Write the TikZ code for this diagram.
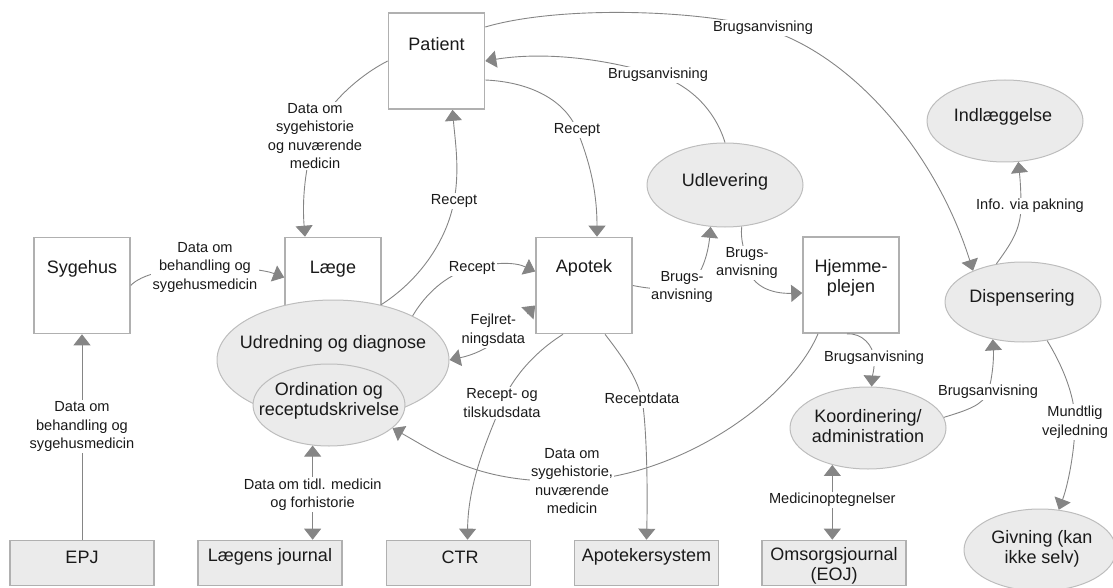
\documentclass[tikz,border=0pt]{standalone}
\usepackage{fontspec}
\setmainfont{Liberation Sans}
\usetikzlibrary{shapes.geometric,arrows.meta}
\definecolor{boxline}{HTML}{B0B0B0}
\definecolor{ellline}{HTML}{BDBDBD}
\definecolor{ellfill}{HTML}{EBEBEB}
\definecolor{arrcol}{HTML}{858585}
\definecolor{txt}{HTML}{1A1A1A}
\begin{document}
\begin{tikzpicture}[x=1pt,y=-1pt,
  wbox/.style={draw=boxline, line width=1.6pt, fill=white, minimum width=96pt, minimum height=96pt, inner sep=0pt},
  gbox/.style={draw=boxline, line width=1.6pt, fill=ellfill, minimum width=144pt, minimum height=45pt, inner sep=0pt},
  ell/.style={ellipse, draw=ellline, line width=1pt, fill=ellfill, inner sep=0pt},
  mtxt/.style={font=\fontsize{18}{19.5}\selectfont, text=txt, align=center, inner sep=0pt},
  elbl/.style={font=\fontsize{14.6}{18.5}\selectfont, text=txt, align=center, fill=white, inner sep=1.5pt},
  conn/.style={draw=arrcol, line width=0.9pt, -{Triangle[length=11pt,width=17pt]}},
  conntwo/.style={draw=arrcol, line width=0.9pt, {Triangle[length=11pt,width=17pt]}-{Triangle[length=11pt,width=17pt]}}]
\useasboundingbox (0,0) rectangle (1113,588);

% white boxes
\node[wbox] (patient) at (436.5,61) {};
\node[mtxt] (patientT) at (436.5,44) {Patient};
\node[wbox] (sygehus) at (82,285.5) {};
\node[mtxt] (sygehusT) at (82,269) {Sygehus};
\node[wbox] (laege) at (333,285.5) {};
\node[mtxt] (laegeT) at (333,269) {Læge};
\node[wbox] (apotek) at (584,285.5) {};
\node[mtxt] (apotekT) at (584,268) {Apotek};
\node[wbox] (hj) at (851,285) {};
\node[mtxt] (hjT) at (851,278) {Hjemme-\\plejen};

% ellipses
\node[ell, minimum width=232pt, minimum height=120pt] (udr) at (333,360) {};
\node[mtxt] (udrT) at (333,344) {Udredning og diagnose};
\node[ell, minimum width=152pt, minimum height=82pt] (ord) at (329,405) {};
\node[mtxt] (ordT) at (329,401) {Ordination og\\receptudskrivelse};
\node[ell, minimum width=156pt, minimum height=84pt] (udl) at (725,185) {};
\node[mtxt] (udlT) at (725,182) {Udlevering};
\node[ell, minimum width=156pt, minimum height=82pt] (koord) at (868,428) {};
\node[mtxt] (koordT) at (868,426) {Koordinering/\\administration};
\node[ell, minimum width=156pt, minimum height=80pt] (disp) at (1023,302) {};
\node[mtxt] (dispT) at (1022,298) {Dispensering};
\node[ell, minimum width=156pt, minimum height=82pt] (indl) at (1005,121) {};
\node[mtxt] (indlT) at (1003,117) {Indlæggelse};
\node[ell, minimum width=152pt, minimum height=82pt] (giv) at (1040,550) {};
\node[mtxt] (givT) at (1042,549) {Givning (kan\\ikke selv)};

% grey boxes
\node[gbox] (epj) at (82,563) {};
\node[mtxt] (epjT) at (82,557) {EPJ};
\node[gbox] (lj) at (270,563) {};
\node[mtxt] (ljT) at (270,557) {Lægens journal};
\node[gbox] (ctr) at (458.5,563) {};
\node[mtxt] (ctrT) at (460,557) {CTR};
\node[gbox] (apsys) at (646.5,563) {};
\node[mtxt] (apsysT) at (646.5,557) {Apotekersystem};
\node[gbox] (oj) at (834,563) {};
\node[mtxt] (ojT) at (834,566) {Omsorgsjournal\\(EOJ)};

% connectors
\draw[conn] ([yshift=34pt]patient.east) .. controls (560,5) and (700,10) .. (763,28)
  node[elbl] {Brugsanvisning}
  .. controls (850,53) and (935,150) .. (disp.148);

\draw[conn] (udl.north) .. controls (715,110) and (690,85) .. (658,75)
  node[elbl] {Brugsanvisning}
  .. controls (600,57) and (540,52) .. (patient.east);

\draw[conn] ([yshift=-19pt]patient.east) .. controls (530,82) and (565,100) .. (577,130)
  node[elbl] {Recept}
  .. controls (589,160) and (597,190) .. ([xshift=13pt]apotek.north);

\draw[conn] (patient.west) .. controls (360,75) and (325,105) .. (315,136)
  node[elbl] {Data om\\sygehistorie\\og nuværende\\medicin}
  .. controls (305,167) and (302,200) .. ([xshift=-28pt]laege.north);

\draw[conn] (udr.49) .. controls (420,280) and (447,240) .. (454,201)
  node[elbl] {Recept}
  .. controls (460,170) and (455,140) .. ([xshift=16pt]patient.south);

\draw[conn] (udr.29) .. controls (425,295) and (445,275) .. (472,268)
  node[elbl] {Recept}
  .. controls (495,262) and (515,262) .. ([yshift=14pt]apotek.west);

\draw[conntwo] (udr.east) to[out=12,in=225]
  node[elbl, pos=0.5, xshift=-3pt, yshift=10pt] {Fejlret-\\ningsdata}
  ([yshift=-20pt]apotek.west);

\draw[conn] (sygehus.east) .. controls (140,275) and (170,267) .. (205,267)
  node[elbl] {Data om\\behandling og\\sygehusmedicin}
  .. controls (240,267) and (265,270) .. ([yshift=8pt]laege.west);

\draw[conn] (epj.north) -- node[elbl, pos=0.55] {Data om\\behandling og\\sygehusmedicin} (sygehus.south);

\draw[conntwo] (ord.248) -- node[elbl, pos=0.52] {Data om tidl. medicin\\og forhistorie} (ord.248 |- lj.north);

\draw[conn] ([xshift=-21pt]apotek.south) .. controls (530,355) and (510,383) .. (502,403)
  node[elbl] {Recept- og\\tilskudsdata}
  .. controls (490,433) and (468,480) .. ([xshift=9pt]ctr.north);

\draw[conn] ([xshift=21pt]apotek.south) .. controls (625,360) and (638,380) .. (642,400)
  node[elbl] {Receptdata}
  .. controls (646,420) and (648,480) .. (apsys.north);

\draw[conn] ([xshift=-33pt]hj.south) .. controls (790,400) and (680,478) .. (572,481)
  node[elbl] {Data om\\sygehistorie,\\nuværende\\medicin}
  .. controls (480,484) and (440,455) .. (ord.-20);

\draw[conn] (apotek.east) .. controls (650,289) and (665,290) .. (682,287)
  node[elbl] {Brugs-\\anvisning}
  .. controls (700,284) and (708,255) .. (udl.251);

\draw[conn] (udl.292) .. controls (740,240) and (745,252) .. (747,263)
  node[elbl] {Brugs-\\anvisning}
  .. controls (749,285) and (770,294) .. ([yshift=-8pt]hj.west);

\draw[conn] ([xshift=-4pt]hj.south) .. controls (862,333) and (873,345) .. (874,358)
  node[elbl] {Brugsanvisning}
  .. controls (875,368) and (872,378) .. (koord.85);

\draw[conn] (koord.8) .. controls (968,410) and (983,405) .. (988,392)
  node[elbl] {Brugsanvisning}
  .. controls (992,380) and (994,360) .. (disp.231);

\draw[conn] (disp.125) .. controls (1010,245) and (1021,230) .. (1021,206)
  node[elbl, xshift=9pt] {Info. via pakning}
  .. controls (1021,190) and (1020,178) .. (indl.288);

\draw[conn] (disp.302) .. controls (1062,365) and (1075,395) .. (1075,422)
  node[elbl] {Mundtlig\\vejledning}
  .. controls (1075,450) and (1068,485) .. (giv.65);

\draw[conntwo] (koord.226) -- node[elbl, pos=0.47] {Medicinoptegnelser} (koord.226 |- oj.north);
\end{tikzpicture}
\end{document}
